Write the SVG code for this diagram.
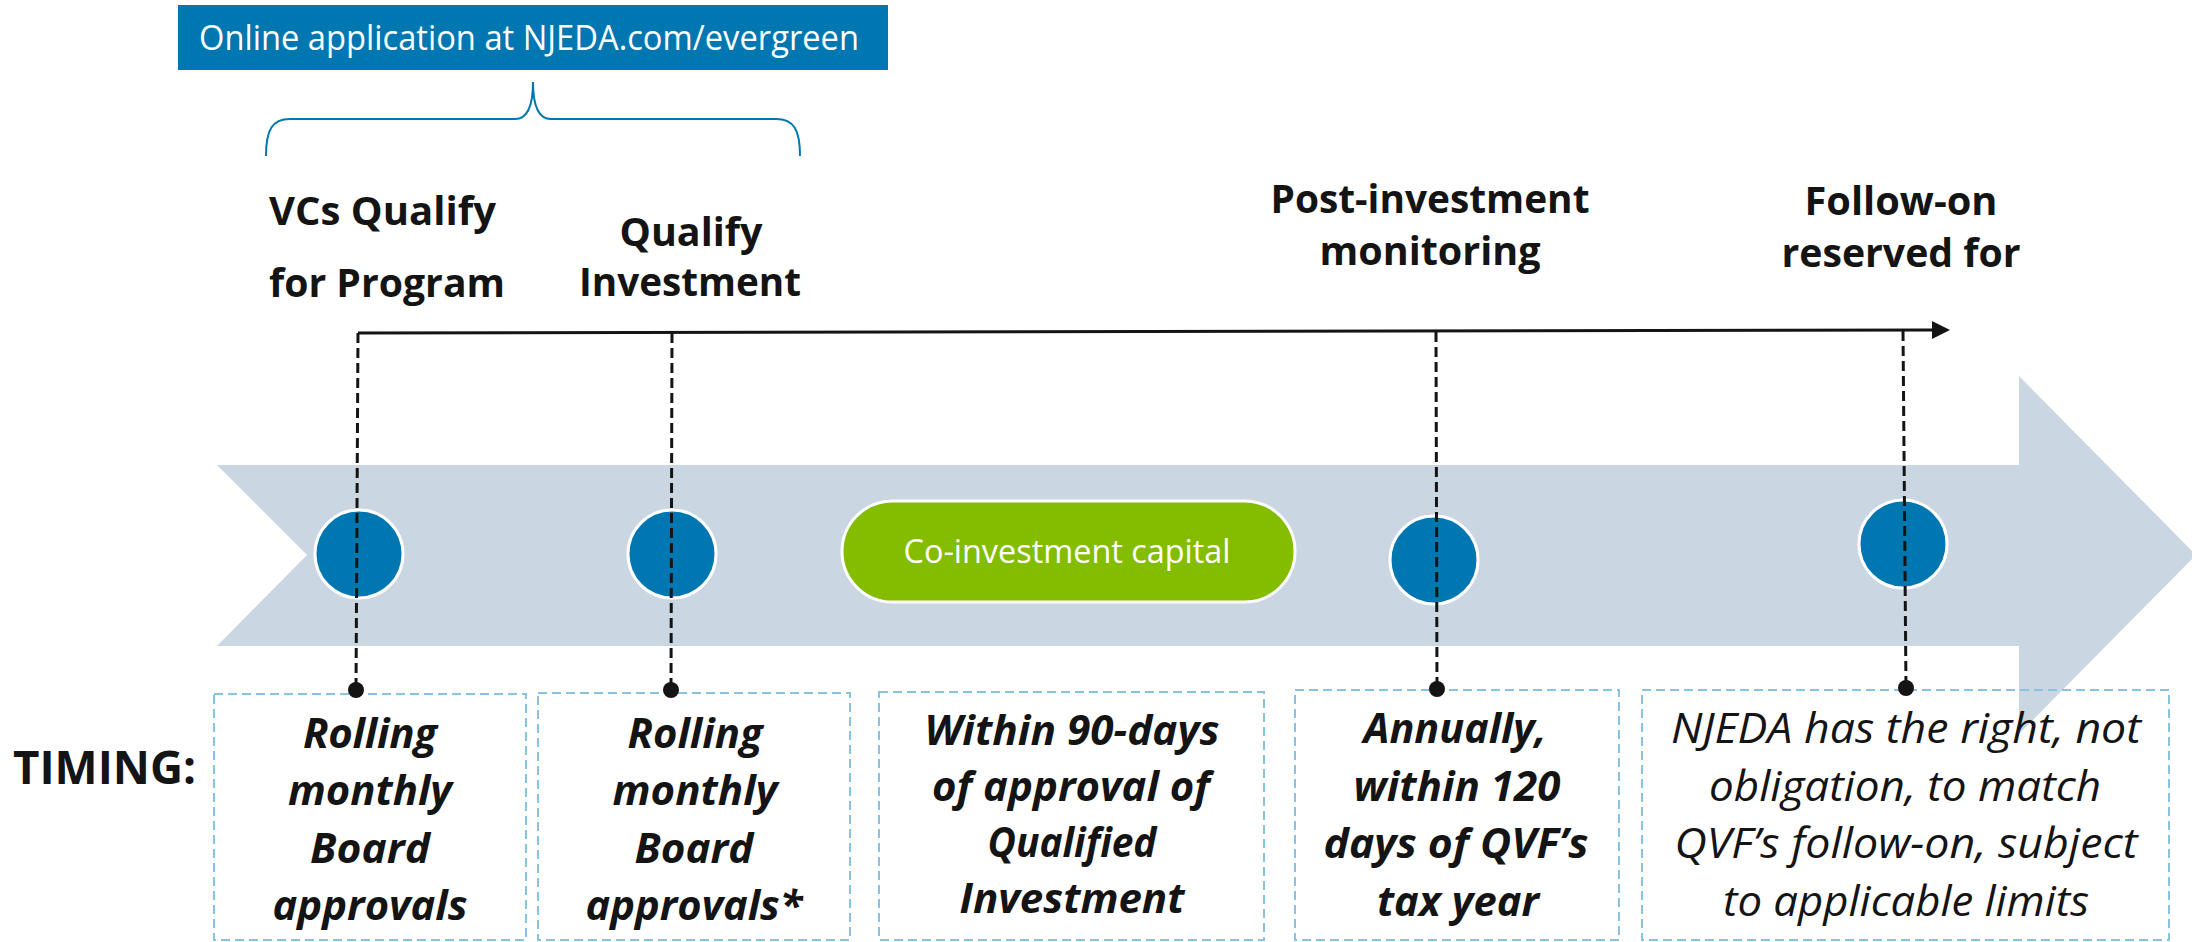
<svg xmlns="http://www.w3.org/2000/svg" width="2192" height="942" viewBox="0 0 2192 942">
<defs>
<style>
.t{font-family:"Open Sans","Liberation Sans",sans-serif;fill:#141414}
.title{font-size:40px;font-weight:700}
.bi{font-size:42px;font-weight:700;font-style:italic}
.it{font-size:42px;font-weight:400;font-style:italic}
.w{fill:#fff;font-weight:400}
.dot{fill:#141414}
.vd{stroke:#141414;stroke-width:3;stroke-dasharray:10 5;fill:none}
.box{fill:none;stroke:#86C3E0;stroke-width:2;stroke-dasharray:9 5}
.node{fill:#0077B0;stroke:#fff;stroke-width:3}
</style>
<marker id="ah" markerWidth="6" markerHeight="6" refX="0" refY="3" orient="auto" markerUnits="strokeWidth" viewBox="0 0 6 6">
<path d="M0,0 L6,3 L0,6 Z" fill="#141414"/>
</marker>
</defs>
<rect width="2192" height="942" fill="#fff"/>

<g id="big-arrow">
<polygon points="217,465 2019,465 2019,376 2196,555 2019,734 2019,646 217,646 307,555" fill="#CAD6E2"/>
</g>

<g id="online-application">
<rect x="178" y="5" width="710" height="65" fill="#0077B0"/>
<text class="t w" x="199" y="50" font-size="34" textLength="660" lengthAdjust="spacingAndGlyphs">Online application at NJEDA.com/evergreen</text>
<path d="M266,156 C266,130 272,119 290,119 L515,119 C528,119 533,105 533,82 C533,105 538,119 551,119 L776,119 C794,119 800,130 800,156" fill="none" stroke="#0077B0" stroke-width="2"/>
</g>

<g id="stage-vcs-qualify">
<text class="t title" x="269" y="225" textLength="227" lengthAdjust="spacingAndGlyphs">VCs Qualify</text>
<text class="t title" x="269" y="297" textLength="236" lengthAdjust="spacingAndGlyphs">for Program</text>
<circle class="node" cx="359" cy="554" r="44"/>
</g>

<g id="stage-qualify-investment">
<text class="t title" x="691" y="246" text-anchor="middle" textLength="143" lengthAdjust="spacingAndGlyphs">Qualify</text>
<text class="t title" x="690" y="296" text-anchor="middle" textLength="222" lengthAdjust="spacingAndGlyphs">Investment</text>
<circle class="node" cx="672" cy="554" r="44"/>
</g>

<g id="co-investment">
<rect x="842" y="501" width="453" height="101" rx="50.5" fill="#84BD00" stroke="#fff" stroke-width="3"/>
<text class="t w" x="1067" y="563" font-size="32" text-anchor="middle" textLength="327" lengthAdjust="spacingAndGlyphs">Co-investment capital</text>
</g>

<g id="stage-monitoring">
<text class="t title" x="1430" y="213" text-anchor="middle" textLength="319" lengthAdjust="spacingAndGlyphs">Post-investment</text>
<text class="t title" x="1430" y="265" text-anchor="middle" textLength="221" lengthAdjust="spacingAndGlyphs">monitoring</text>
<circle class="node" cx="1434" cy="560" r="44"/>
</g>

<g id="stage-follow-on">
<text class="t title" x="1901" y="215" text-anchor="middle" textLength="193" lengthAdjust="spacingAndGlyphs">Follow-on</text>
<text class="t title" x="1901" y="267" text-anchor="middle" textLength="239" lengthAdjust="spacingAndGlyphs">reserved for</text>
<circle class="node" cx="1903" cy="544" r="44"/>
</g>

<g id="timing-label">
<text class="t" x="13" y="784" font-size="46" font-weight="700" textLength="183" lengthAdjust="spacingAndGlyphs">TIMING:</text>
</g>

<g id="timing-1">
<rect class="box" x="214" y="694" width="312" height="246"/>
<text class="t bi" text-anchor="middle" lengthAdjust="spacingAndGlyphs">
<tspan x="370" y="748" textLength="134">Rolling</tspan>
</text>
<text class="t bi" x="370" y="805" text-anchor="middle" textLength="164" lengthAdjust="spacingAndGlyphs">monthly</text>
<text class="t bi" x="370" y="863" text-anchor="middle" textLength="120" lengthAdjust="spacingAndGlyphs">Board</text>
<text class="t bi" x="370" y="920" text-anchor="middle" textLength="195" lengthAdjust="spacingAndGlyphs">approvals</text>
</g>

<g id="timing-2">
<rect class="box" x="538" y="693" width="312" height="247"/>
<text class="t bi" x="695" y="748" text-anchor="middle" textLength="135" lengthAdjust="spacingAndGlyphs">Rolling</text>
<text class="t bi" x="695" y="805" text-anchor="middle" textLength="165" lengthAdjust="spacingAndGlyphs">monthly</text>
<text class="t bi" x="694" y="863" text-anchor="middle" textLength="119" lengthAdjust="spacingAndGlyphs">Board</text>
<text class="t bi" x="694" y="920" text-anchor="middle" textLength="217" lengthAdjust="spacingAndGlyphs">approvals*</text>
</g>

<g id="timing-3">
<rect class="box" x="879" y="692" width="385" height="248"/>
<text class="t bi" x="1072" y="745" text-anchor="middle" textLength="295" lengthAdjust="spacingAndGlyphs">Within 90-days</text>
<text class="t bi" x="1071" y="801" text-anchor="middle" textLength="278" lengthAdjust="spacingAndGlyphs">of approval of</text>
<text class="t bi" x="1072" y="857" text-anchor="middle" textLength="169" lengthAdjust="spacingAndGlyphs">Qualified</text>
<text class="t bi" x="1072" y="913" text-anchor="middle" textLength="225" lengthAdjust="spacingAndGlyphs">Investment</text>
</g>

<g id="timing-4">
<rect class="box" x="1295" y="690" width="324" height="250"/>
<text class="t bi" x="1455" y="743" text-anchor="middle" textLength="183" lengthAdjust="spacingAndGlyphs">Annually,</text>
<text class="t bi" x="1457" y="801" text-anchor="middle" textLength="207" lengthAdjust="spacingAndGlyphs">within 120</text>
<text class="t bi" x="1456" y="858" text-anchor="middle" textLength="265" lengthAdjust="spacingAndGlyphs">days of QVF’s</text>
<text class="t bi" x="1458" y="916" text-anchor="middle" textLength="162" lengthAdjust="spacingAndGlyphs">tax year</text>
</g>

<g id="timing-5">
<rect class="box" x="1642" y="690" width="527" height="250"/>
<text class="t it" x="1906" y="743" text-anchor="middle" textLength="470" lengthAdjust="spacingAndGlyphs">NJEDA has the right, not</text>
<text class="t it" x="1905" y="801" text-anchor="middle" textLength="392" lengthAdjust="spacingAndGlyphs">obligation, to match</text>
<text class="t it" x="1906" y="858" text-anchor="middle" textLength="463" lengthAdjust="spacingAndGlyphs">QVF’s follow-on, subject</text>
<text class="t it" x="1906" y="916" text-anchor="middle" textLength="366" lengthAdjust="spacingAndGlyphs">to applicable limits</text>
</g>

<g id="connectors">
<line x1="358" y1="333" x2="1932" y2="330" stroke="#141414" stroke-width="3" marker-end="url(#ah)"/>
<line class="vd" x1="358" y1="333" x2="356" y2="690"/>
<line class="vd" x1="672" y1="333" x2="671" y2="690"/>
<line class="vd" x1="1436" y1="332" x2="1437" y2="689"/>
<line class="vd" x1="1903" y1="331" x2="1906" y2="688"/>
<circle class="dot" cx="356" cy="690" r="8"/>
<circle class="dot" cx="671" cy="690" r="8"/>
<circle class="dot" cx="1437" cy="689" r="8"/>
<circle class="dot" cx="1906" cy="688" r="8"/>
</g>
</svg>
